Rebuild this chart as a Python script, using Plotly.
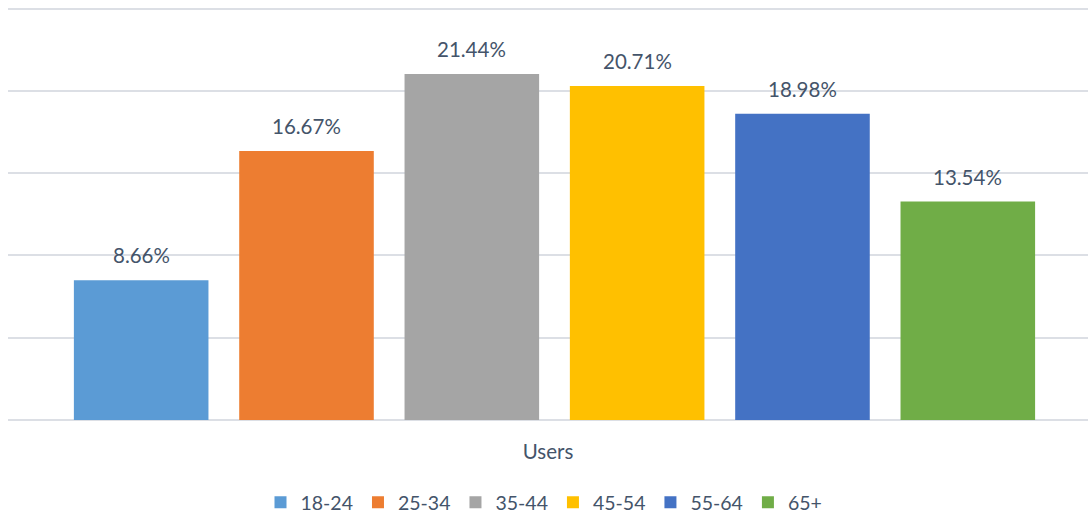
import plotly.graph_objects as go

groups = ["18-24", "25-34", "35-44", "45-54", "55-64", "65+"]
values = [8.66, 16.67, 21.44, 20.71, 18.98, 13.54]
labels = ["8.66%", "16.67%", "21.44%", "20.71%", "18.98%", "13.54%"]
colors = ["#5B9BD5", "#ED7D31", "#A5A5A5", "#FFC000", "#4472C4", "#70AD47"]
grid_vals = [0, 5.1, 10.2, 15.3, 20.4, 25.5]
category_title = "Users"

FONT = "Lato"
TEXT_COLOR = "#44546A"

fig = go.Figure()
for g, v, c in zip(groups, values, colors):
    fig.add_trace(go.Bar(x=[g], y=[v], name=g, marker=dict(color=c, line=dict(width=0)),
                         hoverinfo="skip"))

for g, v, t in zip(groups, values, labels):
    fig.add_annotation(x=g, y=v, text=t, showarrow=False, xref="x", yref="y",
                       yanchor="middle", yshift=25,
                       font=dict(family=FONT, size=20.5, color=TEXT_COLOR))

fig.update_layout(
    width=1088, height=514,
    margin=dict(l=8, r=0, t=7, b=94),
    plot_bgcolor="white", paper_bgcolor="white",
    barmode="overlay", bargap=0.186,
    showlegend=True,
    legend=dict(orientation="h", x=0.5, xanchor="center", xref="container",
                y=0.022, yanchor="middle", yref="container",
                font=dict(family=FONT, size=19.5, color=TEXT_COLOR),
                itemwidth=30, traceorder="normal"),
    xaxis=dict(range=[-0.8055, 5.727], showticklabels=False, showgrid=False,
               zeroline=False, showline=False, ticks="", automargin=False,
               title=dict(text=category_title, standoff=24,
                          font=dict(family=FONT, size=20.5, color=TEXT_COLOR))),
    yaxis=dict(range=[0, 25.6], tickvals=grid_vals, showticklabels=False,
               showgrid=True, gridcolor="#DCDFE5", gridwidth=1.5,
               zeroline=True, zerolinecolor="#DCDFE5", zerolinewidth=1.5,
               showline=False, ticks="", automargin=False),
    font=dict(family=FONT, color=TEXT_COLOR),
)

fig.write_html("out.html", config={"displayModeBar": False},
               post_script="document.body.style.margin='0';")
